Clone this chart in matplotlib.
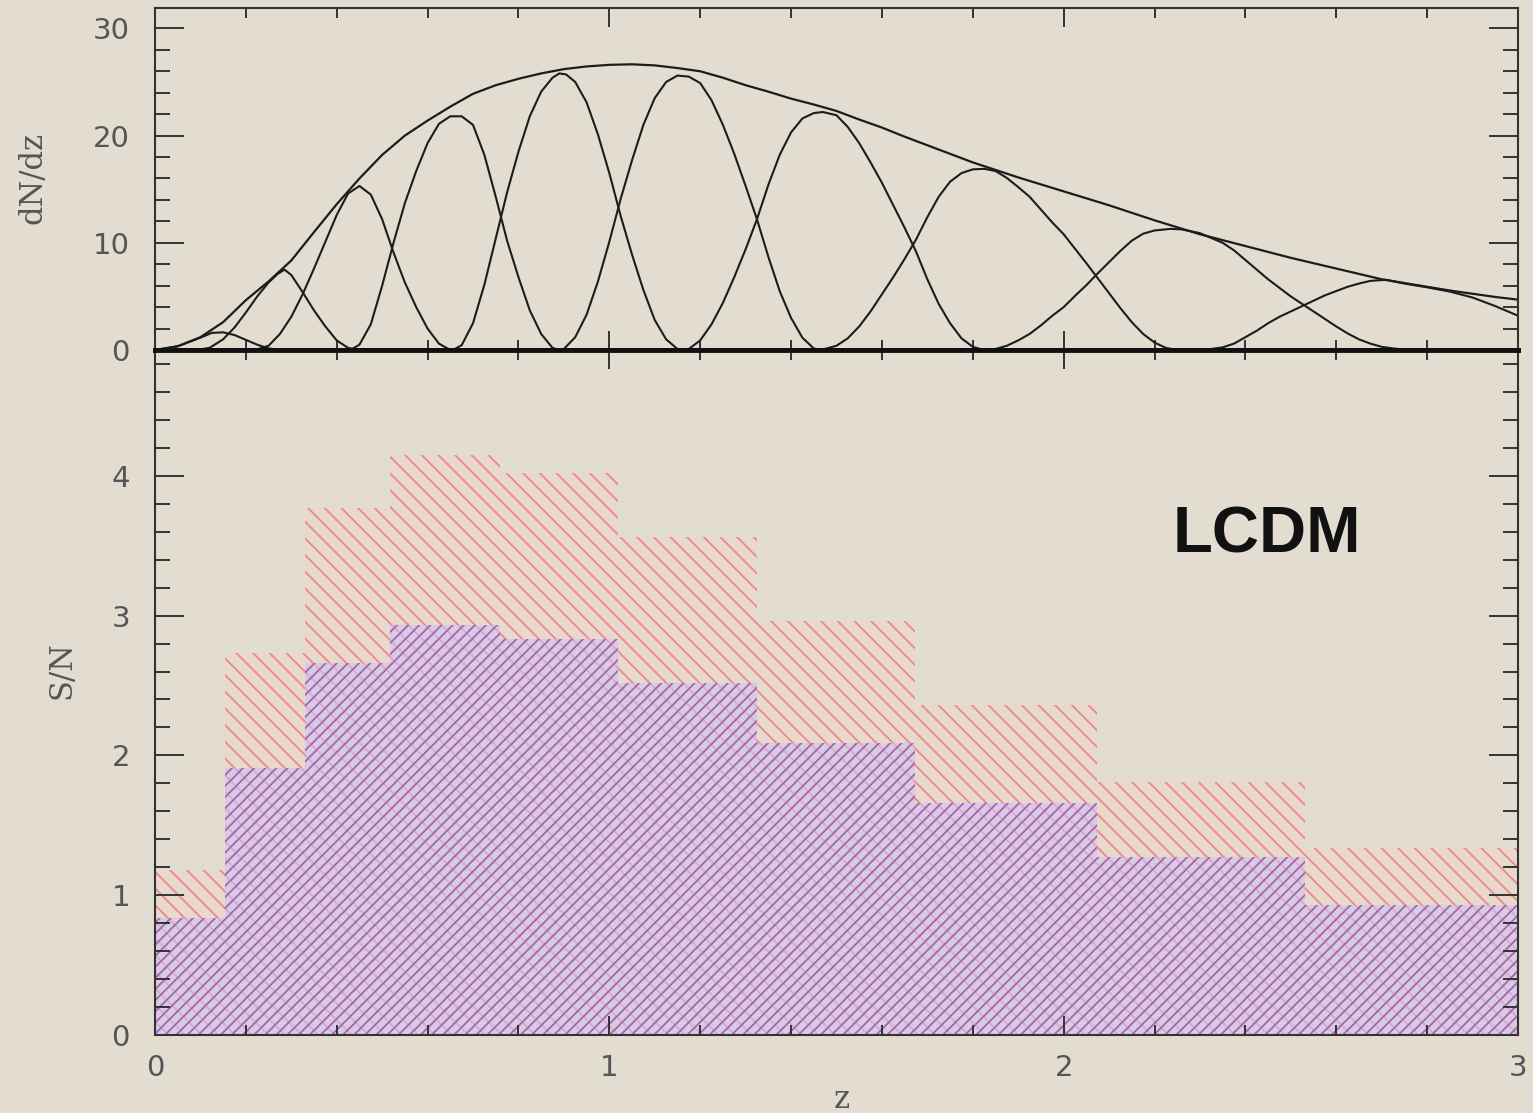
import numpy as np
import matplotlib
matplotlib.use('Agg')
from matplotlib import pyplot as plt
from matplotlib.ticker import MultipleLocator

# ---- top panel: total dN/dz and the ten redshift windows, read as (z, N) points ----
envelope = [(0.0, 0.0), (0.05, 0.35), (0.1, 1.2), (0.15, 2.6), (0.2, 4.65), (0.25, 6.4),
            (0.3, 8.35), (0.35, 11.0), (0.4, 13.6), (0.45, 16.0), (0.5, 18.2), (0.55, 20.0),
            (0.6, 21.4), (0.65, 22.7), (0.7, 23.9), (0.75, 24.7), (0.8, 25.3), (0.85, 25.8),
            (0.9, 26.2), (0.95, 26.45), (1.0, 26.6), (1.05, 26.65), (1.1, 26.55), (1.15, 26.3),
            (1.2, 26.0), (1.25, 25.4), (1.3, 24.7), (1.35, 24.1), (1.4, 23.45), (1.45, 22.9),
            (1.5, 22.3), (1.55, 21.5), (1.6, 20.75), (1.65, 19.9), (1.7, 19.1), (1.75, 18.3),
            (1.8, 17.5), (1.85, 16.8), (1.9, 16.1), (1.95, 15.45), (2.0, 14.8), (2.05, 14.15),
            (2.1, 13.5), (2.15, 12.8), (2.2, 12.1), (2.25, 11.45), (2.3, 10.8), (2.35, 10.25),
            (2.4, 9.7), (2.45, 9.15), (2.5, 8.6), (2.55, 8.1), (2.6, 7.6), (2.65, 7.1),
            (2.7, 6.6), (2.75, 6.25), (2.8, 5.9), (2.85, 5.55), (2.9, 5.25), (2.95, 4.95),
            (3.0, 4.7)]

win1 = [(0.0, 0.0), (0.05, 0.35), (0.1, 1.15), (0.125, 1.6), (0.15, 1.65), (0.175, 1.4),
        (0.2, 0.95), (0.225, 0.5), (0.25, 0.15), (0.28, 0.0)]
win2 = [(0.09, 0.0), (0.12, 0.2), (0.15, 1.0), (0.175, 2.1), (0.2, 3.5), (0.225, 5.0),
        (0.25, 6.3), (0.27, 7.1), (0.285, 7.5), (0.3, 7.0), (0.325, 5.4), (0.35, 3.7),
        (0.375, 2.2), (0.4, 0.9), (0.425, 0.2), (0.45, 0.0)]
win3 = [(0.22, 0.0), (0.25, 0.4), (0.275, 1.5), (0.3, 3.1), (0.325, 5.2), (0.35, 7.6),
        (0.375, 10.1), (0.4, 12.6), (0.425, 14.6), (0.45, 15.3), (0.475, 14.5), (0.5, 12.2),
        (0.525, 9.1), (0.55, 6.3), (0.575, 4.0), (0.6, 2.0), (0.625, 0.6), (0.65, 0.0)]
win4 = [(0.43, 0.0), (0.45, 0.5), (0.475, 2.4), (0.5, 6.0), (0.525, 10.0), (0.55, 13.7),
        (0.575, 16.7), (0.6, 19.3), (0.625, 21.1), (0.65, 21.8), (0.675, 21.8), (0.7, 21.0),
        (0.725, 18.2), (0.75, 14.3), (0.775, 10.2), (0.8, 6.8), (0.825, 3.7), (0.85, 1.5),
        (0.875, 0.2), (0.89, 0.0)]
win5 = [(0.64, 0.0), (0.66, 0.1), (0.675, 0.45), (0.7, 2.5), (0.725, 6.1), (0.75, 10.4),
        (0.775, 14.7), (0.8, 18.5), (0.825, 21.8), (0.85, 24.1), (0.875, 25.4), (0.89, 25.8),
        (0.905, 25.7), (0.925, 25.0), (0.95, 23.1), (0.975, 20.1), (1.0, 16.5), (1.025, 12.5),
        (1.05, 8.9), (1.075, 5.6), (1.1, 2.8), (1.125, 1.0), (1.15, 0.1), (1.16, 0.0)]
win6 = [(0.89, 0.0), (0.9, 0.1), (0.925, 1.2), (0.95, 3.3), (0.975, 6.4), (1.0, 10.1),
        (1.025, 14.1), (1.05, 17.7), (1.075, 21.0), (1.1, 23.5), (1.125, 25.0), (1.15, 25.6),
        (1.175, 25.5), (1.2, 24.9), (1.225, 23.3), (1.25, 21.0), (1.275, 18.3), (1.3, 15.3),
        (1.325, 12.2), (1.35, 8.7), (1.375, 5.5), (1.4, 3.0), (1.425, 1.15), (1.45, 0.15),
        (1.465, 0.0)]
win7 = [(1.16, 0.0), (1.175, 0.1), (1.2, 0.9), (1.225, 2.4), (1.25, 4.4), (1.275, 6.8),
        (1.3, 9.4), (1.325, 12.2), (1.35, 15.4), (1.375, 18.2), (1.4, 20.3), (1.425, 21.6),
        (1.45, 22.1), (1.47, 22.2), (1.5, 21.9), (1.525, 20.8), (1.55, 19.3), (1.575, 17.5),
        (1.6, 15.6), (1.625, 13.5), (1.65, 11.4), (1.675, 9.2), (1.7, 6.6), (1.725, 4.3),
        (1.75, 2.5), (1.775, 1.1), (1.8, 0.3), (1.825, 0.0)]
win8 = [(1.465, 0.0), (1.5, 0.4), (1.525, 1.1), (1.55, 2.2), (1.575, 3.6), (1.6, 5.2),
        (1.625, 6.8), (1.65, 8.5), (1.675, 10.3), (1.7, 12.4), (1.725, 14.3), (1.75, 15.7),
        (1.775, 16.5), (1.8, 16.85), (1.825, 16.9), (1.85, 16.7), (1.875, 16.05), (1.9, 15.2),
        (1.925, 14.3), (1.95, 13.1), (1.975, 11.9), (2.0, 10.8), (2.025, 9.45), (2.05, 8.1),
        (2.075, 6.7), (2.1, 5.3), (2.125, 3.9), (2.15, 2.6), (2.175, 1.5), (2.2, 0.7),
        (2.225, 0.2), (2.25, 0.0)]
win9 = [(1.825, 0.0), (1.85, 0.1), (1.875, 0.4), (1.9, 0.9), (1.925, 1.5), (1.95, 2.3),
        (1.975, 3.2), (2.0, 4.0), (2.025, 5.05), (2.05, 6.05), (2.075, 7.15), (2.1, 8.2),
        (2.125, 9.25), (2.15, 10.2), (2.175, 10.85), (2.2, 11.15), (2.235, 11.3), (2.26, 11.25),
        (2.3, 10.9), (2.35, 10.0), (2.375, 9.3), (2.4, 8.4), (2.425, 7.5), (2.45, 6.6),
        (2.475, 5.8), (2.5, 5.0), (2.525, 4.3), (2.55, 3.6), (2.575, 2.9), (2.6, 2.2),
        (2.625, 1.55), (2.65, 1.0), (2.675, 0.6), (2.7, 0.3), (2.725, 0.15), (2.75, 0.05),
        (2.78, 0.0)]
win10 = [(2.3, 0.0), (2.325, 0.1), (2.35, 0.25), (2.375, 0.6), (2.4, 1.2), (2.425, 1.8),
         (2.45, 2.5), (2.475, 3.1), (2.5, 3.6), (2.525, 4.1), (2.55, 4.6), (2.575, 5.1),
         (2.6, 5.5), (2.625, 5.9), (2.65, 6.2), (2.675, 6.45), (2.71, 6.55), (2.75, 6.2),
         (2.8, 5.85), (2.85, 5.45), (2.9, 4.9), (2.95, 4.1), (3.0, 3.2)]
windows = [win1, win2, win3, win4, win5, win6, win7, win8, win9, win10]

# ---- bottom panel: S/N per redshift bin ----
bin_edges = [0.0, 0.154, 0.33, 0.517, 0.759, 1.019, 1.325, 1.673, 2.073, 2.531, 3.0]
sn_red = [1.18, 2.73, 3.77, 4.15, 4.02, 3.56, 2.96, 2.36, 1.81, 1.34]
sn_blue = [0.84, 1.91, 2.66, 2.93, 2.83, 2.52, 2.09, 1.66, 1.27, 0.93]

BG = '#e3ddd1'
TXT = '#555555'
plt.rcParams['hatch.linewidth'] = 1.3

fig = plt.figure(figsize=(15.33, 11.13), dpi=100, facecolor=BG)
ax1 = fig.add_axes([0.1011, 0.6855, 0.8891, 0.3073])
ax2 = fig.add_axes([0.1011, 0.0701, 0.8891, 0.6154])

for ax in (ax1, ax2):
    ax.set_facecolor(BG)
    ax.set_xlim(0, 3)
    ax.xaxis.set_major_locator(MultipleLocator(1))
    ax.xaxis.set_minor_locator(MultipleLocator(0.2))
    ax.tick_params(which='both', direction='in', top=True, right=True,
                   color='#333333', width=1.4, labelcolor=TXT, labelsize=21)
    ax.tick_params(axis='x', which='major', length=14, pad=14)
    ax.tick_params(axis='x', which='minor', length=7)
    ax.tick_params(axis='y', which='major', length=21, pad=18)
    ax.tick_params(axis='y', which='minor', length=11)
    for s in ax.spines.values():
        s.set_color('#333333')
        s.set_linewidth(1.5)

# top panel
ax1.set_ylim(0, 31.9)
ax1.yaxis.set_major_locator(MultipleLocator(10))
ax1.yaxis.set_minor_locator(MultipleLocator(2))
ax1.tick_params(labelbottom=False)
ax1.plot([p[0] for p in envelope], [p[1] for p in envelope], color='#1c1c1c', lw=1.6)
for w in windows:
    ax1.plot([p[0] for p in w], [p[1] for p in w], color='#1c1c1c', lw=1.5)
ax1.spines['bottom'].set_linewidth(3.5)
ax1.spines['bottom'].set_color('#111111')
ax2.spines['top'].set_linewidth(3.5)
ax2.spines['top'].set_color('#111111')

# bottom panel
edges = np.array(bin_edges)
ax2.set_ylim(0, 4.9)
ax2.yaxis.set_major_locator(MultipleLocator(1))
ax2.yaxis.set_minor_locator(MultipleLocator(0.2))
ax2.bar(edges[:-1], sn_red, width=np.diff(edges), align='edge', facecolor='#e8d8cd',
        edgecolor='#ea8a88', hatch='\\\\', linewidth=0)
ax2.bar(edges[:-1], sn_blue, width=np.diff(edges), align='edge', facecolor=(0.80, 0.77, 0.94, 0.6),
        edgecolor='#a862b8', hatch='///', linewidth=0)
ax2.text(2.448, 3.57, 'LCDM', fontsize=47, fontweight='bold', family='Liberation Sans',
         ha='center', va='center', color='#111111')

fig.text(0.0215, 0.840, 'dN/dz', rotation=90, ha='center', va='center',
         fontsize=22, color=TXT, family='DejaVu Serif')
fig.text(0.0404, 0.398, 'S/N', rotation=90, ha='center', va='center',
         fontsize=22, color=TXT, family='DejaVu Serif')
fig.text(0.549, 0.012, 'z', ha='center', va='center', fontsize=22, color=TXT,
         family='DejaVu Serif')

fig.savefig('out.png', dpi=100, facecolor=BG)
